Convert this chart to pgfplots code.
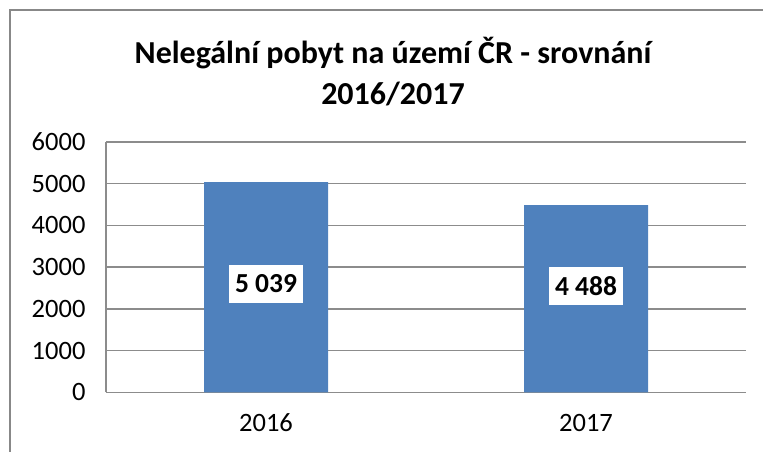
\documentclass[border=0pt]{standalone}
\usepackage{pgfplots}
\pgfplotsset{compat=1.18}
\usepackage{fontspec}
\setmainfont{Carlito}
\definecolor{barblue}{HTML}{4F81BD}
\definecolor{gridgrey}{HTML}{8C8C8C}
\definecolor{framegrey}{HTML}{888888}
\begin{document}
\begin{tikzpicture}[x=1pt,y=1pt]
\useasboundingbox (0pt,0pt) rectangle (763pt,452pt);
\draw[framegrey, line width=2pt] (9.5pt,-5pt) -- (9.5pt,442pt) -- (770pt,442pt);
\node[font=\fontsize{32}{41}\selectfont\bfseries, align=center, anchor=center] at (393pt,380pt) {Nelegální pobyt na území ČR - srovnání\\2016/2017};
\begin{axis}[
  at={(106pt,59.7pt)}, anchor=south west,
  scale only axis, width=640pt, height=250.3pt,
  xmin=-0.5, xmax=1.5, ymin=0, ymax=6000,
  xtick={0,1}, xticklabels={2016,2017},
  ytick={0,1000,2000,3000,4000,5000,6000},
  major tick length=0pt,
  axis x line*=bottom, axis y line*=left,
  axis line style={gridgrey, line width=1.5pt},
  ymajorgrids, grid style={gridgrey, line width=1.5pt},
  /pgf/number format/assume math mode=true,
  /pgf/number format/1000 sep={},
  tick label style={font=\fontsize{26.5}{30}\selectfont, black},
  yticklabel style={xshift=-17pt},
  xticklabel style={yshift=-18pt},
  clip=false,
]
\addplot[ybar, bar width=124pt, fill=barblue, draw=none] coordinates {(0,5039) (1,4488)};
\addplot[draw=none, mark=none, nodes near coords, point meta=explicit symbolic,
  nodes near coords style={fill=white, font=\fontsize{27.5}{30}\selectfont\bfseries, anchor=center, minimum width=74pt, minimum height=38pt, inner sep=0pt}]
  coordinates {(0,2600)[5 039] (1,2550)[4 488]};
\end{axis}
\end{tikzpicture}
\end{document}
